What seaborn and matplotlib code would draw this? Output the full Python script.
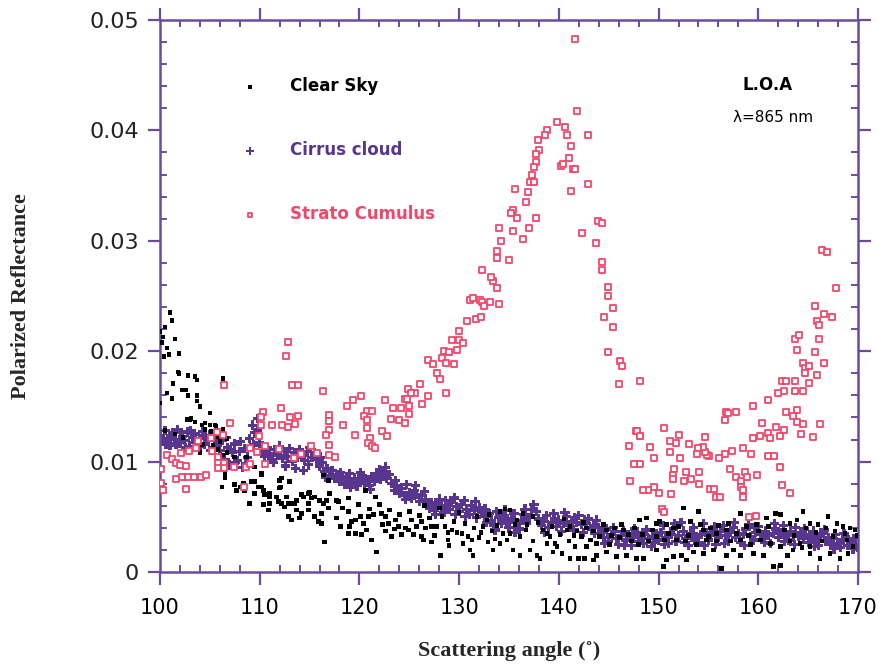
import matplotlib
matplotlib.use("Agg")
import matplotlib.pyplot as plt
from matplotlib.ticker import MultipleLocator
import seaborn as sns
import pandas as pd

# ---------------- data ----------------
CLEAR_SKY = [
    (101.0, .0235), (101.2, .0228), (100.5, .0222), (100.2, .0208),
    (100.0, .0218), (100.3, .0213), (101.5, .0211), (100.7, .0203), (100.9, .0197), (101.9, .0198),
    (100.4, .0195), (101.8, .0181), (101.9, .0180), (102.8, .0178), (103.5, .0177), (103.7, .0174),
    (101.3, .0171), (102.2, .0165), (102.6, .0165), (100.7, .0162), (101.2, .0157), (102.8, .0160),
    (103.7, .0160), (103.7, .0155), (106.3, .0175), (105.0, .0144), (102.7, .0138), (103.0, .0138),
    (103.5, .0136), (104.2, .0133), (105.0, .0133), (105.5, .0133), (106.3, .0129), (106.7, .0121),
    (104.5, .0129), (105.2, .0123), (106.0, .0118), (104.2, .0115), (104.0, .0108), (106.3, .0106),
    (106.5, .0089), (106.2, .0077), (107.5, .0079), (108.1, .0077), (109.5, .0082), (110.2, .0088),
    (110.2, .0077), (111.0, .0071), (112.0, .0083), (112.1, .0077), (113.0, .0082), (114.2, .0070),
    (114.9, .0071), (109.5, .0071), (109.0, .0062), (110.4, .0061), (111.0, .0062), (112.2, .0062),
    (112.9, .0062), (113.5, .0062), (114.9, .0062), (115.2, .0067), (116.4, .0062), (117.0, .0071),
    (117.9, .0064), (120.6, .0074), (121.6, .0068),
    (100.0, .0153), (104.0, .0150), (103.1, .0139), (104.5, .0135), (105.6, .0132), (105.1, .0127),
    (105.8, .0123), (104.3, .0116), (105.3, .0115), (105.8, .0111), (106.7, .0108), (107.5, .0104),
    (108.7, .0104), (106.5, .0085), (107.7, .0074), (108.4, .0080), (108.5, .0074), (109.2, .0082),
    (109.5, .0095), (110.2, .0089), (109.9, .0077), (110.4, .0074), (110.5, .0070), (111.0, .0068),
    (112.2, .0085), (112.0, .0076), (111.7, .0068), (111.9, .0064), (112.7, .0068), (113.2, .0062),
    (113.7, .0065), (114.4, .0068), (115.0, .0072), (115.5, .0068), (116.0, .0065),
    (116.4, .0088), (116.9, .0083), (116.7, .0065), (117.7, .0065), (116.9, .0058), (116.2, .0053),
    (114.9, .0056), (114.2, .0053), (113.7, .0056), (112.5, .0059), (110.9, .0056), (112.9, .0050),
    (113.2, .0047), (114.0, .0049), (115.5, .0050), (115.9, .0046), (116.2, .0044), (117.7, .0049),
    (118.1, .0041), (118.9, .0067), (118.9, .0055), (119.2, .0046), (119.6, .0047), (120.1, .0050),
    (120.4, .0044), (120.9, .0050), (121.4, .0052), (121.6, .0068), (122.2, .0053), (122.6, .0050),
    (122.9, .0044), (123.6, .0047), (123.9, .0041), (124.6, .0040), (124.9, .0038), (125.2, .0047),
    (125.7, .0041), (126.2, .0046), (126.6, .0040), (127.2, .0041), (127.7, .0041), (128.6, .0041),
    (128.9, .0036), (129.3, .0038), (129.8, .0036), (130.3, .0035), (130.9, .0032), (131.3, .0029),
    (132.9, .0027), (133.6, .0030), (134.1, .0026), (134.4, .0035), (116.5, .0027), (118.9, .0035),
    (119.6, .0035), (120.2, .0034), (121.2, .0029), (121.7, .0018), (122.6, .0037), (123.2, .0032),
    (124.2, .0034), (126.2, .0032), (126.4, .0029), (127.2, .0027), (128.1, .0015), (128.9, .0029),
    (131.1, .0020), (131.4, .0015), (132.4, .0041), (132.8, .0047), (133.3, .0037),
    (126.5, .0060), (128.0, .0058), (130.0, .0054), (131.8, .0050), (133.0, .0052),
    (100.5, .0128), (101.5, .0125), (102.3, .0122),
    (118.3, .0058), (119.9, .0061), (121.0, .0057), (122.0, .0061), (123.0, .0056), (124.0, .0052),
    (125.0, .0055), (126.0, .0051), (127.0, .0049), (128.3, .0050), (129.5, .0046), (130.6, .0044),
    (131.5, .0040), (132.2, .0036), (133.8, .0042), (119.0, .0041), (120.7, .0038), (122.3, .0043),
    (123.5, .0039), (125.4, .0034), (127.5, .0033), (129.0, .0024), (130.4, .0026), (132.0, .0031),
    (133.4, .0020),
    (134.6, .0057), (134.1, .0055), (135.1, .0056), (135.8, .0047), (136.4, .0053), (136.8, .0043),
    (137.4, .0050), (138.4, .0038), (138.8, .0035), (139.1, .0032), (139.6, .0026), (140.1, .0034),
    (140.8, .0038), (141.1, .0041), (141.8, .0037), (142.3, .0032), (142.8, .0040), (143.5, .0037),
    (144.1, .0032), (144.8, .0038), (145.6, .0040), (146.5, .0038), (147.0, .0034), (148.1, .0047),
    (148.8, .0049), (149.8, .0044), (150.1, .0046), (150.8, .0043), (151.5, .0040), (152.5, .0058),
    (153.2, .0046), (154.0, .0055), (154.5, .0038), (155.2, .0040), (155.8, .0035), (156.8, .0038),
    (158.2, .0053), (158.8, .0041), (159.8, .0043), (160.8, .0049), (161.7, .0053), (162.2, .0052),
    (163.2, .0044), (163.9, .0047), (164.5, .0055), (165.2, .0044), (166.0, .0043), (167.0, .0050),
    (167.9, .0044), (168.5, .0041), (169.2, .0040), (169.7, .0038),
    (134.8, .0029), (135.4, .0020), (136.1, .0015), (137.1, .0020), (137.8, .0015), (138.1, .0012),
    (139.4, .0018), (140.3, .0017), (141.1, .0012), (142.0, .0012), (142.6, .0012), (143.5, .0011),
    (143.8, .0015), (144.8, .0018), (145.8, .0014), (146.8, .0015), (147.8, .0012), (148.5, .0012),
    (149.8, .0020), (150.5, .0005), (150.8, .0011), (151.5, .0014), (152.3, .0015), (152.8, .0011),
    (153.5, .0018), (154.5, .0017), (155.5, .0020), (156.3, .0003), (156.8, .0015), (157.5, .0020),
    (158.2, .0015), (159.5, .0017), (160.5, .0015), (161.5, .0005), (162.2, .0006), (162.9, .0015),
    (163.5, .0020), (164.4, .0022), (165.2, .0017), (166.2, .0012), (167.2, .0017), (168.2, .0012),
    (169.0, .0017), (169.5, .0023),
    (135.1, .0035), (136.1, .0032), (137.4, .0028), (138.8, .0026), (139.8, .0023), (141.0, .0028),
    (141.6, .0023), (142.8, .0023), (143.8, .0026), (145.1, .0025), (146.1, .0031), (147.3, .0028),
    (148.0, .0025), (149.0, .0028), (149.8, .0032), (150.6, .0029), (151.8, .0029), (152.7, .0028),
    (153.8, .0025), (154.8, .0029), (155.8, .0028), (157.2, .0028), (158.2, .0029), (159.2, .0025),
    (160.2, .0029), (161.2, .0026), (162.2, .0023), (163.2, .0028), (164.2, .0026), (165.2, .0023),
    (166.4, .0028), (167.5, .0032), (168.9, .0029),
    (135.6, .0043), (136.7, .0038), (137.9, .0045), (139.3, .0041), (140.5, .0048), (141.5, .0033),
    (142.5, .0045), (143.2, .0029), (144.5, .0043), (145.3, .0033), (146.3, .0043), (147.6, .0040),
    (148.4, .0034), (149.4, .0038), (151.0, .0035), (152.0, .0041), (153.0, .0033), (154.2, .0043),
    (155.0, .0032), (156.0, .0042), (157.0, .0044), (157.8, .0035), (159.0, .0033), (160.0, .0037),
    (161.0, .0041), (162.6, .0038), (163.6, .0033), (164.8, .0040), (165.8, .0036), (166.8, .0040),
    (167.7, .0037), (168.7, .0035), (169.9, .0033),
]

CIRRUS = [
    (100.00, .0124), (100.25, .0118), (100.50, .0128), (100.75, .0121), (101.00, .0115), (101.25, .0126),
    (101.50, .0120), (101.75, .0129), (102.00, .0117), (102.25, .0123), (102.50, .0119), (102.75, .0127),
    (103.00, .0114), (103.25, .0122), (103.50, .0125), (103.75, .0118), (104.00, .0121), (104.25, .0127),
    (104.50, .0116), (104.75, .0120), (105.00, .0124), (105.25, .0113), (105.50, .0119), (105.75, .0115),
    (100.1, .0120), (100.6, .0116), (101.1, .0123), (101.6, .0116), (102.1, .0126), (102.6, .0113),
    (103.1, .0128), (103.6, .0117), (104.1, .0114), (104.6, .0124), (105.1, .0110), (105.6, .0122),
    (106.00, .0110), (106.25, .0119), (106.50, .0102), (106.75, .0113), (107.00, .0097), (107.25, .0108),
    (107.50, .0116), (107.75, .0101), (108.00, .0109), (108.25, .0095), (108.50, .0112), (108.75, .0104),
    (106.1, .0105), (106.6, .0122), (107.1, .0111), (107.6, .0099), (108.1, .0118), (108.6, .0098),
    (109.00, .0121), (109.25, .0133), (109.50, .0126), (109.75, .0139), (110.00, .0117),
    (109.4, .0115), (109.8, .0128),
    (110.25, .0110), (110.50, .0105), (110.75, .0113), (111.00, .0107), (111.25, .0102), (111.50, .0111),
    (111.75, .0106), (112.00, .0114), (112.25, .0103), (112.50, .0109), (112.75, .0105), (113.00, .0112),
    (113.25, .0100), (113.50, .0108), (113.75, .0104), (114.00, .0111), (114.25, .0106), (114.50, .0101),
    (114.75, .0109), (115.00, .0113), (115.25, .0104), (115.50, .0108),
    (112.6, .0096), (113.6, .0094), (114.4, .0092), (114.9, .0097), (111.4, .0099),
    (115.75, .0102), (116.00, .0096), (116.25, .0099), (116.50, .0091), (116.75, .0094), (117.00, .0087),
    (117.25, .0092), (117.50, .0085), (116.1, .0104), (116.6, .0086),
    (117.75, .0088), (118.00, .0082), (118.25, .0086), (118.50, .0079), (118.75, .0084), (119.00, .0089),
    (119.25, .0081), (119.50, .0085), (119.75, .0078), (120.00, .0083), (120.25, .0087), (120.50, .0080),
    (120.75, .0084), (121.00, .0078), (121.25, .0086), (121.50, .0082),
    (121.75, .0089), (122.00, .0093), (122.25, .0087), (122.50, .0091), (122.75, .0085), (123.00, .0088),
    (122.1, .0084), (122.6, .0095),
    (123.25, .0080), (123.50, .0074), (123.75, .0078), (124.00, .0071), (124.25, .0076), (124.50, .0069),
    (124.75, .0079), (125.00, .0072), (125.25, .0067), (125.50, .0074), (125.75, .0070),
    (126.00, .0064), (126.25, .0069), (126.50, .0073), (126.75, .0062), (127.00, .0058), (127.25, .0063),
    (127.50, .0056), (127.75, .0061), (128.00, .0066), (128.25, .0059), (128.50, .0054), (128.75, .0060),
    (129.00, .0057),
    (129.25, .0063), (129.50, .0067), (129.75, .0059), (130.00, .0055), (130.25, .0061), (130.50, .0065),
    (130.75, .0057), (131.00, .0052), (131.25, .0060), (131.50, .0056), (131.75, .0049), (132.00, .0058),
    (132.25, .0054),
    (118.1, .0090), (119.1, .0077), (120.1, .0090), (121.1, .0075), (123.6, .0083), (124.6, .0066),
    (125.6, .0078), (126.6, .0066), (127.6, .0052), (128.6, .0065), (129.6, .0052), (130.6, .0050),
    (131.6, .0064),
    (132.50, .0050), (132.75, .0045), (133.00, .0053), (133.25, .0047), (133.50, .0042), (133.75, .0055),
    (134.00, .0049), (134.25, .0044), (134.50, .0051), (134.75, .0046), (135.00, .0040), (135.25, .0048),
    (135.50, .0053), (135.75, .0045), (136.00, .0039), (136.25, .0047), (136.50, .0052), (136.75, .0044),
    (137.00, .0049), (137.25, .0057), (137.50, .0061), (137.75, .0055), (138.00, .0048), (138.25, .0042),
    (138.50, .0046), (138.75, .0051), (139.00, .0040), (139.25, .0045), (139.50, .0053), (139.75, .0041),
    (140.00, .0047), (140.25, .0037), (140.50, .0044), (140.75, .0050), (141.00, .0042), (141.25, .0046),
    (141.50, .0038), (141.75, .0045), (142.00, .0051), (142.25, .0043), (142.50, .0036), (142.75, .0044),
    (143.00, .0048), (143.25, .0039), (143.50, .0042), (143.75, .0047), (144.00, .0040),
    (132.6, .0057), (133.6, .0038), (134.6, .0056), (135.6, .0036), (136.6, .0057), (138.6, .0036),
    (139.6, .0048), (140.6, .0054), (141.6, .0049), (142.6, .0047), (143.6, .0035),
    (144.25, .0036), (144.50, .0031), (144.75, .0039), (145.00, .0028), (145.25, .0034), (145.50, .0040),
    (145.75, .0030), (146.00, .0025), (146.25, .0033), (146.50, .0037), (146.75, .0029), (147.00, .0034),
    (147.25, .0024), (147.50, .0031), (147.75, .0036), (148.00, .0028), (148.25, .0033), (148.50, .0026),
    (148.75, .0038), (149.00, .0030), (149.25, .0023), (149.50, .0032), (149.75, .0035),
    (150.00, .0029), (150.25, .0036), (150.50, .0042), (150.75, .0031), (151.00, .0026), (151.25, .0034),
    (151.50, .0039), (151.75, .0028), (152.00, .0033), (152.25, .0045), (152.50, .0037), (152.75, .0030),
    (153.00, .0024), (153.25, .0035), (153.50, .0040), (153.75, .0032), (154.00, .0027), (154.25, .0034),
    (154.50, .0044), (154.75, .0036), (155.00, .0029), (155.25, .0033), (155.50, .0038), (155.75, .0025),
    (156.00, .0031),
    (156.25, .0037), (156.50, .0042), (156.75, .0033), (157.00, .0028), (157.25, .0036), (157.50, .0040),
    (157.75, .0031), (158.00, .0035), (158.25, .0027), (158.50, .0034), (158.75, .0039), (159.00, .0043),
    (159.25, .0032), (159.50, .0029), (159.75, .0036), (160.00, .0041), (160.25, .0034), (160.50, .0030),
    (160.75, .0037), (161.00, .0033), (161.25, .0026), (161.50, .0035), (161.75, .0039), (162.00, .0031),
    (162.25, .0036), (162.50, .0042), (162.75, .0034), (163.00, .0029), (163.25, .0037), (163.50, .0033),
    (163.75, .0040), (164.00, .0032),
    (164.25, .0036), (164.50, .0030), (164.75, .0034), (165.00, .0027), (165.25, .0031), (165.50, .0037),
    (165.75, .0029), (166.00, .0024), (166.25, .0032), (166.50, .0035), (166.75, .0028), (167.00, .0031),
    (167.25, .0025), (167.50, .0030), (167.75, .0034), (168.00, .0026), (168.25, .0022), (168.50, .0029),
    (168.75, .0032), (169.00, .0024), (169.25, .0027), (169.50, .0021), (169.75, .0025), (170.00, .0022),
    (144.6, .0026), (145.6, .0037), (146.6, .0024), (147.6, .0039), (148.6, .0034), (149.6, .0027),
    (150.6, .0025), (151.6, .0044), (152.6, .0027), (153.6, .0029), (154.6, .0024), (155.6, .0041),
    (156.6, .0026), (157.6, .0045), (158.6, .0024), (159.6, .0040), (160.6, .0027), (161.6, .0044),
    (162.6, .0028), (163.6, .0025), (164.6, .0039), (165.6, .0023), (166.6, .0038), (167.6, .0021),
    (168.6, .0035), (169.6, .0030),
]

STRATO_CUMULUS = [
    (112.8, .0208), (112.6, .0196), (113.2, .0169), (113.8, .0169), (116.3, .0164), (106.4, .0169),
    (112.1, .0149), (110.3, .0145), (107.05, .0135), (111.2, .0133), (112.2, .0133), (112.8, .0131),
    (113.0, .0140), (113.8, .0141), (113.5, .0134), (110.1, .0140), (110.1, .0133), (109.9, .0123),
    (106.3, .0124), (105.7, .0127), (105.1, .0121), (103.8, .0119), (103.6, .0112), (102.9, .0110),
    (102.1, .0108), (100.7, .0106), (100.1, .0093), (100.1, .0081), (100.3, .0074), (101.2, .0102),
    (101.6, .0099), (102.0, .0097), (102.6, .0096), (101.6, .0084), (102.2, .0086), (102.8, .0086),
    (103.4, .0086), (104.1, .0086), (104.6, .0088), (102.6, .0075), (105.2, .0110), (105.8, .0104),
    (105.8, .0099), (106.4, .0099), (106.4, .0094), (105.8, .0094), (107.4, .0095), (108.4, .0077),
    (108.6, .0095), (109.0, .0098), (109.0, .0112), (109.7, .0109), (110.5, .0114), (110.5, .0098),
    (111.9, .0111), (113.4, .0103), (114.1, .0107), (115.1, .0114), (115.7, .0108), (116.9, .0142),
    (116.9, .0137), (116.9, .0129), (116.6, .0124), (116.9, .0115), (116.9, .0106), (117.5, .0104),
    (118.4, .0133), (118.8, .0150), (119.4, .0156), (120.2, .0159), (120.8, .0146), (121.3, .0146),
    (120.5, .0141), (120.8, .0138), (120.8, .0130), (119.6, .0124), (121.1, .0121), (120.9, .0117),
    (121.3, .0114), (121.6, .0112), (122.3, .0128), (122.6, .0156), (122.8, .0123), (123.4, .0149),
    (123.2, .0139), (124.0, .0138), (124.2, .0149), (124.6, .0157), (124.9, .0166), (125.6, .0162),
    (126.1, .0170), (126.9, .0159), (126.3, .0152), (124.6, .0135), (125.0, .0143), (125.0, .0150),
    (125.2, .0162), (124.8, .0157), (126.9, .0192), (127.4, .0188), (127.8, .0180), (128.1, .0175),
    (128.3, .0194), (128.5, .0200), (128.7, .0189), (129.0, .0199), (129.3, .0210), (129.5, .0188),
    (128.7, .0162),
    (129.8, .0201), (130.0, .0210), (130.4, .0207), (130.0, .0218), (130.8, .0227), (131.7, .0229),
    (132.2, .0231), (131.1, .0246), (131.4, .0248), (132.1, .0246), (132.3, .0245), (132.5, .0241),
    (133.1, .0245), (134.0, .0243), (133.8, .0257), (133.4, .0264), (133.2, .0267), (132.3, .0274),
    (133.8, .0284), (133.8, .0291), (135.0, .0283), (134.2, .0300), (134.0, .0312), (135.4, .0309),
    (136.4, .0302), (137.0, .0312), (137.7, .0321), (135.8, .0321), (135.4, .0328), (135.2, .0325),
    (136.7, .0335), (136.9, .0344), (137.1, .0353), (137.5, .0353), (135.6, .0347), (141.2, .0345),
    (142.9, .0351), (143.9, .0318), (144.3, .0316), (142.3, .0307), (143.7, .0298), (144.3, .0281),
    (144.3, .0274), (144.9, .0258), (144.9, .0250), (145.4, .0239), (144.5, .0231), (145.4, .0222),
    (144.9, .0199), (146.1, .0191), (146.3, .0187), (146.0, .0170), (148.1, .0173), (147.7, .0128),
    (148.1, .0123),
    (141.6, .0483), (141.8, .0418), (139.8, .0408), (140.6, .0403), (140.8, .0396), (138.8, .0400),
    (138.6, .0396), (137.9, .0391), (138.0, .0382), (137.7, .0379), (137.7, .0371), (137.5, .0367),
    (137.3, .0360), (142.9, .0396), (141.2, .0386), (141.0, .0375), (140.2, .0368), (140.4, .0370),
    (141.4, .0365), (141.6, .0365),
    (166.4, .0292), (166.9, .0290), (167.8, .0257), (165.7, .0241), (166.6, .0234), (167.4, .0231),
    (165.9, .0227), (166.1, .0224), (166.1, .0211), (165.7, .0199), (166.6, .0189), (165.9, .0178),
    (163.7, .0211), (164.1, .0215), (163.9, .0201),
    (164.5, .0189), (164.7, .0185), (165.1, .0187), (164.7, .0180), (165.1, .0171), (164.5, .0164),
    (163.7, .0164), (163.7, .0173), (162.4, .0173), (162.8, .0173), (162.6, .0164), (162.0, .0162),
    (161.0, .0156), (162.8, .0145), (163.9, .0147), (163.5, .0141), (163.9, .0136), (164.5, .0134),
    (164.3, .0125), (165.5, .0122), (166.2, .0134),
    (159.5, .0150), (160.4, .0135), (161.0, .0126), (161.2, .0121), (161.8, .0131), (162.6, .0129),
    (162.2, .0123), (160.2, .0123), (159.5, .0121),
    (161.0, .0105), (161.6, .0105), (162.2, .0095), (162.4, .0079), (163.2, .0072),
    (159.3, .0107), (158.5, .0112), (157.4, .0110), (156.7, .0107), (156.1, .0103), (155.1, .0105),
    (154.9, .0106), (154.7, .0109), (154.5, .0113), (154.0, .0112), (153.9, .0107), (154.7, .0122),
    (156.7, .0138), (156.8, .0145), (157.0, .0144), (157.8, .0145),
    (157.2, .0093), (157.8, .0086), (158.3, .0082), (158.3, .0077), (158.5, .0074), (158.5, .0068),
    (158.7, .0091), (158.9, .0086), (159.9, .0088),
    (155.2, .0075), (155.6, .0075), (155.8, .0068), (156.2, .0068),
    (154.1, .0091), (154.1, .0080), (153.3, .0084), (152.8, .0091), (152.6, .0082), (151.5, .0093),
    (151.4, .0088), (151.4, .0084), (152.1, .0103), (151.7, .0117), (151.1, .0119), (151.1, .0109),
    (153.1, .0116), (152.0, .0124), (150.5, .0130), (151.2, .0071), (149.1, .0113), (149.5, .0103),
    (149.5, .0077), (148.9, .0074), (148.4, .0074), (150.0, .0072), (147.1, .0082), (147.5, .0098),
    (148.1, .0098), (147.0, .0114), (147.8, .0128), (148.1, .0123),
    (150.3, .0057), (150.5, .0054), (159.1, .0050), (159.8, .0051),
]

SERIES_NAMES = ["Clear Sky", "Cirrus cloud", "Strato Cumulus"]
X_TICKS = [100, 110, 120, 130, 140, 150, 160, 170]
Y_TICKS = [0, 0.01, 0.02, 0.03, 0.04, 0.05]
Y_TICK_LABELS = ["0", "0.01", "0.02", "0.03", "0.04", "0.05"]

# ---------------- styling ----------------
PURPLE = "#58358f"
AXIS_PURPLE = "#6a4c9f"
RED = "#f2476a"

sns.set_theme(style="white")
plt.rcParams["font.family"] = ["DejaVu Sans"]

frames = []
for name, pts in zip(SERIES_NAMES, [CLEAR_SKY, CIRRUS, STRATO_CUMULUS]):
    d = pd.DataFrame(pts, columns=["angle", "refl"])
    d["series"] = name
    frames.append(d)
df = pd.concat(frames, ignore_index=True)

fig = plt.figure(figsize=(8.81, 6.68), dpi=100)
ax = fig.add_axes([160 / 881, 1 - 572 / 668, 698 / 881, 552 / 668])

sns.scatterplot(data=df[df.series == "Cirrus cloud"], x="angle", y="refl", ax=ax,
                marker="P", s=46, color=PURPLE, edgecolor="none", linewidth=0,
                label="Cirrus cloud", zorder=2)
sns.scatterplot(data=df[df.series == "Clear Sky"], x="angle", y="refl", ax=ax,
                marker="s", s=11, color="black", edgecolor="none", linewidth=0,
                label="Clear Sky", zorder=3)
sns.scatterplot(data=df[df.series == "Strato Cumulus"], x="angle", y="refl", ax=ax,
                marker="s", s=20, facecolor="white", edgecolor=RED, linewidth=1.3,
                label="Strato Cumulus", zorder=4)

ax.set_xlim(100, 170)
ax.set_ylim(0, 0.05)
ax.set_xticks(X_TICKS)
ax.set_xticklabels([str(t) for t in X_TICKS])
ax.set_yticks(Y_TICKS)
ax.set_yticklabels(Y_TICK_LABELS)
ax.xaxis.set_minor_locator(MultipleLocator(2))
ax.yaxis.set_minor_locator(MultipleLocator(0.002))

for sp in ax.spines.values():
    sp.set_color(AXIS_PURPLE)
    sp.set_linewidth(1.8)
ax.tick_params(which="major", direction="out", length=9, width=1.6, color=AXIS_PURPLE,
               bottom=True, left=True, top=True, right=True,
               labeltop=False, labelright=False)
ax.tick_params(which="minor", direction="in", length=5, width=1.4, color=AXIS_PURPLE,
               bottom=True, left=True, top=True, right=True)
ax.tick_params(axis="x", which="major", labelsize=15, pad=10, labelcolor="black")
ax.tick_params(axis="y", which="major", labelsize=16, pad=6, labelcolor="#222222")

ax.set_xlabel("Scattering angle (˚)", fontfamily="Liberation Serif", fontweight="bold",
              fontsize=16, labelpad=16)
ax.set_ylabel("Polarized Reflectance", fontfamily="Liberation Serif", fontweight="bold",
              fontsize=16, labelpad=42)

# legend (order as in the reference)
handles, labels = ax.get_legend_handles_labels()
order = [labels.index(n) for n in SERIES_NAMES]
leg = ax.legend([handles[i] for i in order], [labels[i] for i in order],
                loc="upper left", bbox_to_anchor=(0.117, 0.896), frameon=False,
                prop={"weight": "bold", "size": 12}, labelspacing=2.75,
                handlelength=1.0, handletextpad=1.9, borderpad=0, borderaxespad=0,
                markerscale=0.8)
for txt, col in zip(leg.get_texts(), ["black", PURPLE, RED]):
    txt.set_color(col)

ax.text(0.87, 0.882, "L.O.A", transform=ax.transAxes, ha="center", va="center",
        fontsize=12, fontweight="bold", color="black")
ax.text(0.878, 0.824, "λ=865 nm", transform=ax.transAxes, ha="center", va="center",
        fontsize=11, color="black")

fig.savefig("out.png", dpi=100)
